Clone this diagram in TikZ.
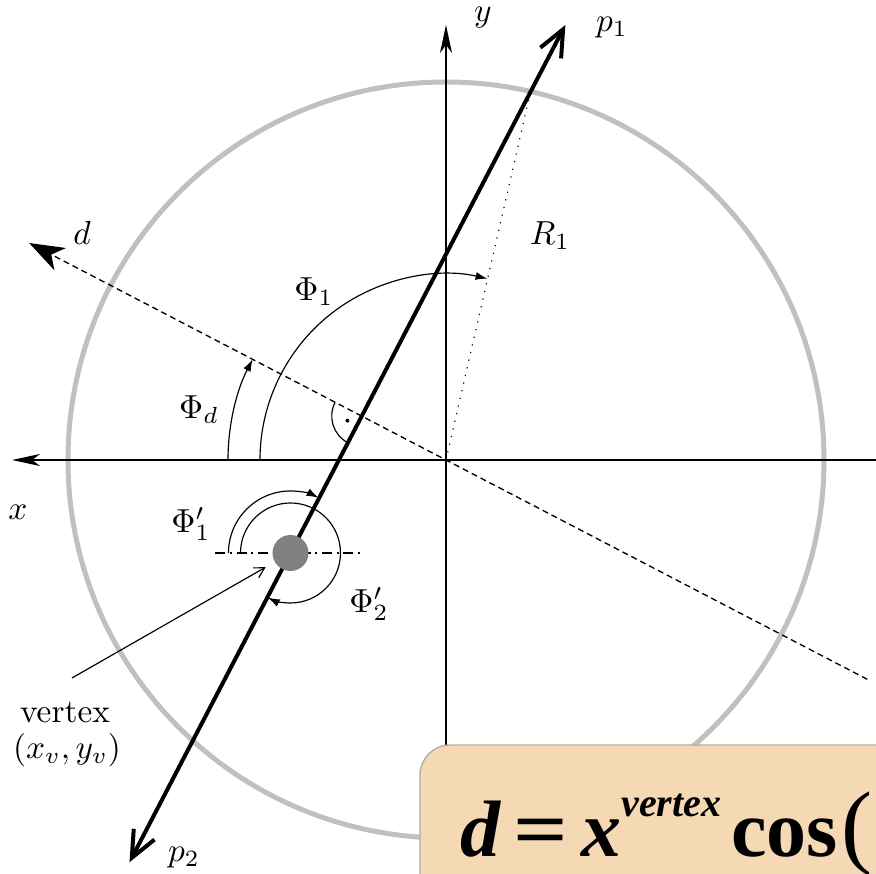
\documentclass[tikz,border=0pt]{standalone}
\usepackage{fontspec}
\usetikzlibrary{arrows.meta,calc}
\newfontfamily\eqfont{Liberation Serif}
\definecolor{rimgray}{HTML}{C0C0C0}
\definecolor{dotgray}{HTML}{808080}
\definecolor{eqtan}{HTML}{F5D8B4}
\definecolor{eqedge}{HTML}{B4ACA2}

\begin{document}
\begin{tikzpicture}[
  x=.3pt,
  y=.3pt,
  rim/.style={draw=rimgray,line width=1.5pt},
  axis/.style={line width=.45pt,-{Stealth[length=8.4pt,width=3.6pt,inset=2.4pt]}},
  track/.style={line width=1.2pt,
    {Straight Barb[length=8pt,width=7pt]}-{Straight Barb[length=8pt,width=7pt]}},
  dirline/.style={line width=.4pt,dash pattern=on 1.8pt off 1.2pt,
    -{Stealth[length=10.5pt,width=7.5pt,inset=3pt]}},
  angarc/.style={line width=.35pt,-{Latex[length=3.6pt,width=2.4pt]}},
  pointer/.style={line width=.35pt,-{Straight Barb[length=3pt,width=3.4pt]},shorten >=3pt},
  vtxdot/.style={circle,fill=dotgray,inner sep=0pt,minimum size=10.8pt},
  lbl/.style={inner sep=1pt}
]
\clip (-446,-414) rectangle (430,460);

% frame: origin, foot of the perpendicular, track ends
\coordinate (o) at (0,0);
\coordinate (f) at (152.5:95);
\coordinate (p1) at ($(f)+(62.5:441)$);
\coordinate (p2) at ($(f)+(242.5:503)$);
\coordinate (c1) at (77.07:378);
\coordinate (dtip) at (152.5:470);
\coordinate (dtail) at (332.5:475);
\coordinate (xtip) at (-434,0);
\coordinate (xtail) at (430,0);
\coordinate (ytip) at (0,435);
\coordinate (ytail) at (0,-414);

\draw[rim] (o) circle[radius=378];
\draw[axis] (xtail) -- (xtip);
\draw[axis] (ytail) -- (ytip);
\draw[dirline] (dtail) -- (dtip);
\draw[line width=.35pt,dotted] (o) -- (c1);

% angles at the origin
\draw[angarc] (180:218) arc[start angle=180,end angle=152.5,radius=218];
\draw[angarc] (180:186) arc[start angle=180,end angle=77.07,radius=186];
\draw[line width=.35pt] ($(f)+(152.5:30)$) arc[start angle=152.5,end angle=242.5,radius=30];
\node[circle,fill,inner sep=0pt,minimum size=1.2pt] (rdot) at ($(f)+(197.5:15)$) {};

% angles at the vertex
\coordinate (vc) at ($(f)+(242.5:154.3)$);
\coordinate (hl) at ($(vc)+(-75,0)$);
\coordinate (hr) at ($(vc)+(72,0)$);
\draw[line width=.35pt,dash pattern=on 3pt off 1.4pt on .6pt off 1.4pt] (hl) -- (hr);
\draw[angarc] ($(vc)+(180:62)$) arc[start angle=180,end angle=63,radius=62];
\draw[angarc] ($(vc)+(180:50)$) arc[start angle=180,end angle=-117,radius=50];

\draw[track] (p2) -- (p1);
\node[vtxdot] (vtx) at (vc) {};
\coordinate (ptail) at (-374,-218);
\draw[pointer] (ptail) -- (vtx);

% labels
\node[lbl] (ylab) at (37,442) {$y$};
\node[lbl] (p1lab) at (166,432) {$p_1$};
\node[lbl] (dlab) at (-364,227) {$d$};
\node[lbl] (rlab) at (104,224) {$R_1$};
\node[lbl] (phi1) at (-132,168) {$\Phi_1$};
\node[lbl] (phid) at (-247,50) {$\Phi_d$};
\node[lbl] (xlab) at (-428,-52) {$x$};
\node[lbl] (phi1p) at (-255,-64) {$\Phi'_1$};
\node[lbl] (phi2p) at (-77,-144) {$\Phi'_2$};
\node[lbl] (vlab) at (-381,-252) {vertex};
\node[lbl] (vpos) at (-379,-290) {$(x_v,y_v)$};
\node[lbl] (p2lab) at (-262,-398) {$p_2$};

% formula panel
\filldraw[fill=eqtan,draw=eqedge,line width=.4pt,rounded corners=9pt]
  (-26,-285) rectangle (620,-620);
\node[anchor=base west,inner sep=0pt,font=\eqfont\bfseries\fontsize{24}{28}\selectfont]
  (eq) at (14,-397)
  {\textit{d}\kern3.5pt\scalebox{1.2}[1]{=}\kern4pt\textit{x}\raisebox{.5em}{\fontsize{12}{14}\selectfont\textit{vertex}}\kern3pt cos\kern1pt{\mdseries\fontsize{28}{30}\selectfont(}};
\end{tikzpicture}
\end{document}
